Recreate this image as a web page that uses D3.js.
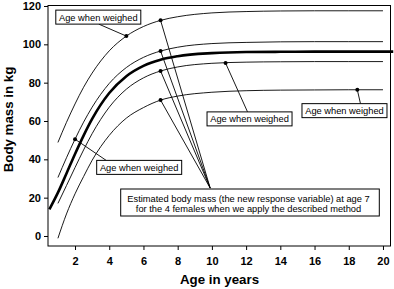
<!DOCTYPE html>
<html lang="en">
<head>
<meta charset="UTF-8">
<title>Body mass vs age</title>
<script src="https://d3js.org/d3.v7.min.js"></script>
<style>
html, body { margin: 0; padding: 0; background: white; }
body { font-family: Arial, 'Liberation Sans', Helvetica, sans-serif; }
.axis text { font-family: Arial, 'Liberation Sans', sans-serif; font-weight: bold; font-size: 11px; fill: black; }
.axis line { stroke: black; stroke-width: 1; }
.axis path { display: none; }
.axis-title { font-family: Arial, 'Liberation Sans', sans-serif; font-weight: bold; font-size: 13.3px; fill: black; }
.note { font-family: Arial, 'Liberation Sans', sans-serif; font-size: 9.3px; fill: black; }
</style>
</head>
<body>
<div id="chart"></div>
<script>

// ---------- data ----------
const ages = [1, 1.5, 2, 2.5, 3, 4, 5, 6, 7, 8, 10, 12, 14, 16, 18, 20];
const massA = [48.8, 59.3, 68.9, 77.6, 85.0, 96.6, 104.3, 109.3, 112.5, 114.4, 116.4, 117.1, 117.4, 117.5, 117.5, 117.5];
const massB = [30.5, 40.8, 50.5, 59.4, 67.2, 79.6, 87.9, 93.2, 96.5, 98.5, 100.4, 101.0, 101.3, 101.4, 101.4, 101.4];
const massD = [17.0, 26.3, 35.7, 44.9, 53.4, 67.2, 76.6, 82.5, 86.1, 88.2, 90.1, 90.7, 90.9, 91.0, 91.0, 91.0];
const massE = [-1.2, 11.5, 22.0, 31.0, 39.5, 52.5, 61.5, 67.0, 70.9, 73.0, 75.0, 75.8, 76.1, 76.2, 76.3, 76.3];

const meanAges = [0.5, 1, 1.5, 2, 2.5, 3, 4, 5, 6, 7, 8, 10, 12, 14, 16, 18, 20, 20.6];
const meanMass = [13.9, 22.6, 32.6, 42.8, 52.4, 61.1, 74.6, 83.4, 88.8, 92.0, 93.8, 95.4, 96.0, 96.1, 96.2, 96.2, 96.2, 96.2];

// ages at which the 4 females were weighed (on curves A, B, D, E)
const weighedAge = [5, 2, 10.8, 18.5];
const weighedMass = [104.3, 50.5, 90.2, 76.3];

// estimated mass at age 7
const estAge = 7;
const estMass = [112.5, 96.5, 86.1, 70.9];

const xTicks = [2, 4, 6, 8, 10, 12, 14, 16, 18, 20];
const yTicks = [0, 20, 40, 60, 80, 100, 120];

const weighedLabel = "Age when weighed";
const estLines = ["Estimated body mass (the new response variable) at age 7",
                  "for the 4 females when we apply the described method"];

// ---------- size ----------
const totalWidth = 394, totalHeight = 289;
const margin = {top: 5.5, right: 3.5, bottom: 43, left: 48};

const svg = d3.select("#chart").append("svg")
  .attr("width", totalWidth)
  .attr("height", totalHeight);

const x = d3.scaleLinear().domain([0.42, 20.44]).range([margin.left, totalWidth - margin.right]);
const y = d3.scaleLinear().domain([-5.22, 120.26]).range([totalHeight - margin.bottom, margin.top]);

// ---------- axes ----------
svg.append("g")
  .attr("class", "axis")
  .attr("transform", `translate(${margin.left},0)`)
  .call(d3.axisLeft(y).tickValues(yTicks).tickSize(4).tickPadding(3));

svg.append("g")
  .attr("class", "axis")
  .attr("transform", `translate(0,${totalHeight - margin.bottom})`)
  .call(d3.axisBottom(x).tickValues(xTicks).tickSize(4).tickPadding(7));

svg.append("rect")
  .attr("x", margin.left)
  .attr("y", margin.top)
  .attr("width", totalWidth - margin.right - margin.left)
  .attr("height", totalHeight - margin.bottom - margin.top)
  .attr("fill", "none")
  .attr("stroke", "black")
  .attr("stroke-width", 1);

svg.append("text")
  .attr("class", "axis-title")
  .attr("text-anchor", "middle")
  .attr("x", 219.5)
  .attr("y", 283.5)
  .text("Age in years");

svg.append("text")
  .attr("class", "axis-title")
  .attr("text-anchor", "middle")
  .attr("transform", "translate(12.5,119.5) rotate(-90)")
  .text("Body mass in kg");

// ---------- curves ----------
const line = d3.line()
  .x(d => x(d[0]))
  .y(d => y(d[1]))
  .curve(d3.curveMonotoneX);

[massA, massB, massD, massE].forEach(m => {
  svg.append("path")
    .datum(ages.map((a, i) => [a, m[i]]))
    .attr("d", line)
    .attr("fill", "none")
    .attr("stroke", "black")
    .attr("stroke-width", 0.9);
});

svg.append("path")
  .datum(meanAges.map((a, i) => [a, meanMass[i]]))
  .attr("d", line)
  .attr("fill", "none")
  .attr("stroke", "black")
  .attr("stroke-width", 2.6);

// ---------- estimated mass at age 7 ----------
const estBox = {cx: 250, cy: 202.5, w: 258.6, h: 27};
const meet = [x(9.9), y(25)];

svg.selectAll(".est-line")
  .data(estMass)
  .join("line")
  .attr("class", "est-line")
  .attr("x1", x(estAge))
  .attr("y1", d => y(d))
  .attr("x2", meet[0])
  .attr("y2", meet[1])
  .attr("stroke", "black")
  .attr("stroke-width", 0.9);

svg.append("rect")
  .attr("x", estBox.cx - estBox.w / 2)
  .attr("y", estBox.cy - estBox.h / 2)
  .attr("width", estBox.w)
  .attr("height", estBox.h)
  .attr("fill", "white")
  .attr("stroke", "black")
  .attr("stroke-width", 1);

svg.selectAll(".est-text")
  .data(estLines)
  .join("text")
  .attr("class", "note est-text")
  .attr("text-anchor", "middle")
  .attr("x", estBox.cx - 1.5)
  .attr("y", (d, i) => 201.5 + i * 10.7)
  .text(d => d);

svg.selectAll(".est-dot")
  .data(estMass)
  .join("circle")
  .attr("class", "est-dot")
  .attr("cx", x(estAge))
  .attr("cy", d => y(d))
  .attr("r", 2)
  .attr("fill", "black");

// ---------- "age when weighed" labels ----------
// box centres in data units, leader attachment offsets in px
const boxCentre = [[3.36, 114.2], [5.75, 35.8], [12.2, 61.1], [17.75, 65.4]];
const attach = [[0.5, 7], [-33, -7], [-2, -7], [16, -7]];
const boxW = 85, boxH = 14;

weighedAge.forEach((a, i) => {
  const cx = x(boxCentre[i][0]), cy = y(boxCentre[i][1]);
  svg.append("line")
    .attr("x1", x(a))
    .attr("y1", y(weighedMass[i]))
    .attr("x2", cx + attach[i][0])
    .attr("y2", cy + attach[i][1])
    .attr("stroke", "black")
    .attr("stroke-width", 0.9);
  svg.append("rect")
    .attr("x", cx - boxW / 2)
    .attr("y", cy - boxH / 2)
    .attr("width", boxW)
    .attr("height", boxH)
    .attr("fill", "white")
    .attr("stroke", "black")
    .attr("stroke-width", 1);
  svg.append("text")
    .attr("class", "note")
    .attr("text-anchor", "middle")
    .attr("x", cx)
    .attr("y", cy + 3.4)
    .text(weighedLabel);
  svg.append("circle")
    .attr("cx", x(a))
    .attr("cy", y(weighedMass[i]))
    .attr("r", 2)
    .attr("fill", "black");
});

</script>
</body>
</html>
